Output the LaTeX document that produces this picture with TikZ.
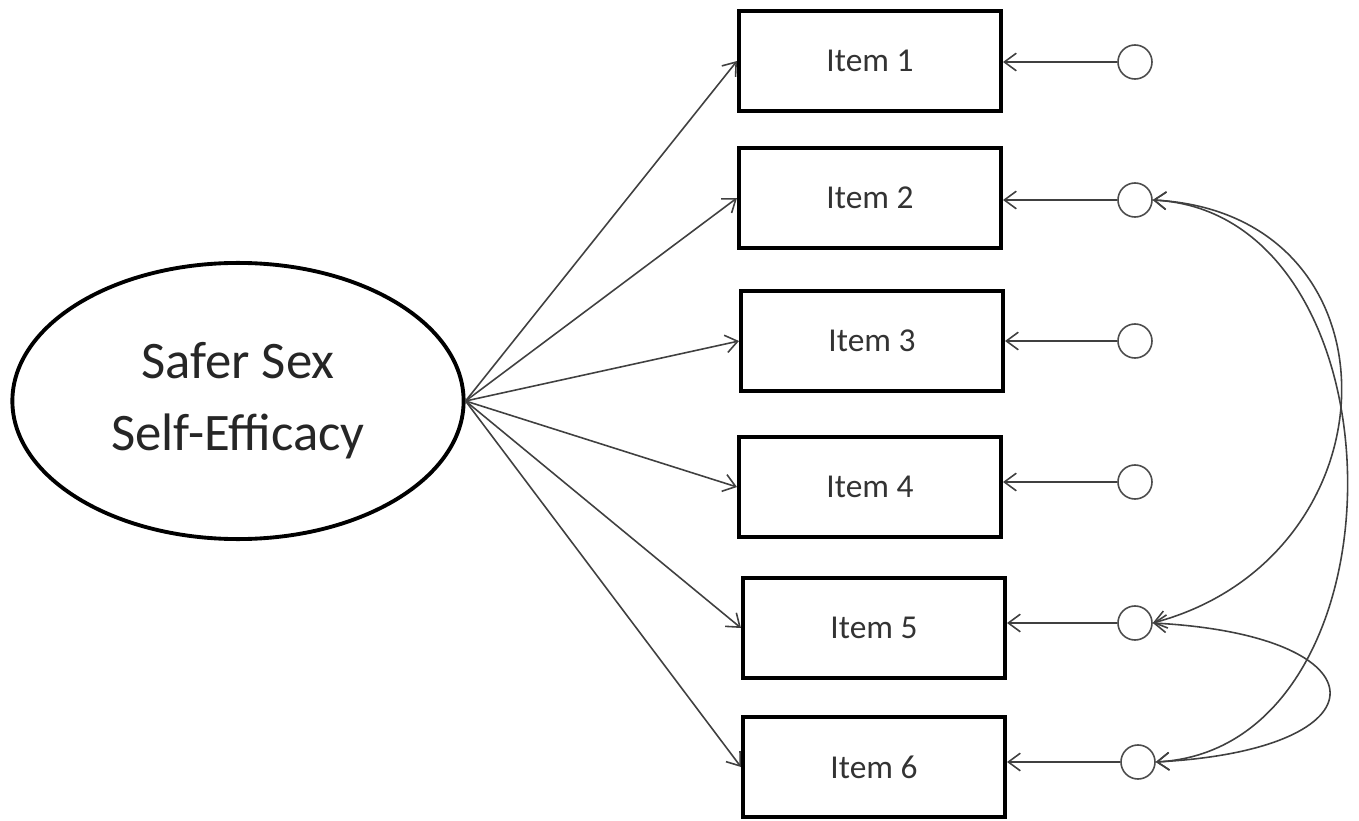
\documentclass[tikz,border=0pt]{standalone}
\usepackage{fontspec}
\setmainfont{Carlito}
\usetikzlibrary{arrows.meta,positioning,shapes.geometric}

\tikzset{
  item/.style={draw,line width=1.1pt,minimum width=2.62cm,minimum height=1.0cm,inner sep=0pt,text=black!80,font=\fontsize{9.5}{11}\selectfont},
  err/.style={draw,circle,black!70,line width=0.45pt,minimum size=0.34cm,inner sep=0pt},
  path/.style={black!75,line width=0.45pt,-{Straight Barb[length=3.4pt,width=5pt]}},
  cov/.style={black!75,line width=0.45pt,{Straight Barb[length=3.4pt,width=5pt]}-{Straight Barb[length=3.4pt,width=5pt]}}
}

\begin{document}
\begin{tikzpicture}[x=0.01cm,y=-0.01cm]
  \useasboundingbox (0,0) rectangle (1359,821);
  % latent factor
  \node[draw,ellipse,line width=1.1pt,minimum width=4.51cm,minimum height=2.76cm,inner sep=0pt,
        align=center,text=black!85,font=\fontsize{15}{20.5}\selectfont] (lat) at (238,401) {Safer Sex\\Self-Efficacy};
  % indicators
  \node[item] (it1) at (870,61)  {Item 1};
  \node[item] (it2) at (870,198) {Item 2};
  \node[item] (it3) at (872,341) {Item 3};
  \node[item] (it4) at (870,487) {Item 4};
  \node[item] (it5) at (874,628) {Item 5};
  \node[item] (it6) at (874,767) {Item 6};
  % error terms
  \node[err] (e1) at (1135,62)  {};
  \node[err] (e2) at (1135,200) {};
  \node[err] (e3) at (1135,341) {};
  \node[err] (e4) at (1135,482) {};
  \node[err] (e5) at (1135,623) {};
  \node[err] (e6) at (1138,762) {};
  % loadings
  \draw[path] (lat.east) -- (it1.west);
  \draw[path] (lat.east) -- (it2.west);
  \draw[path] (lat.east) -- (it3.west);
  \draw[path] (lat.east) -- (it4.west);
  \draw[path] (lat.east) -- (it5.west);
  \draw[path] (lat.east) -- (it6.west);
  % residuals
  \draw[path] (e1.west) -- (e1.west -| it1.east);
  \draw[path] (e2.west) -- (e2.west -| it2.east);
  \draw[path] (e3.west) -- (e3.west -| it3.east);
  \draw[path] (e4.west) -- (e4.west -| it4.east);
  \draw[path] (e5.west) -- (e5.west -| it5.east);
  \draw[path] (e6.west) -- (e6.west -| it6.east);
  % correlated errors
  \draw[cov] (e2.east) to[out=-3,in=15,looseness=1.55] (e5.east);
  \draw[cov] (e2.east) to[out=-3,in=3,looseness=1.17] (e6.east);
  \draw[cov] (e5.east) to[out=-3,in=3,looseness=4.3] (e6.east);
\end{tikzpicture}
\end{document}
